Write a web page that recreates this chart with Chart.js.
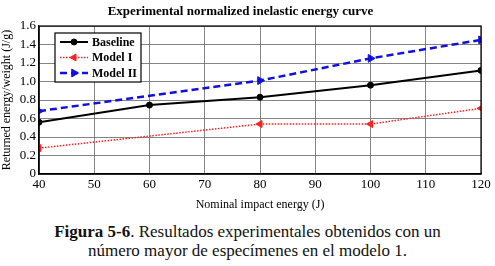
<!DOCTYPE html>
<html>
<head>
<meta charset="utf-8">
<script src="https://cdn.jsdelivr.net/npm/chart.js@4/dist/chart.umd.min.js"></script>
<style>
  html, body { margin: 0; padding: 0; background: #fff; }
  #wrap { position: relative; width: 495px; height: 212px; }
  #cap { width: 495px; text-align: center; font-family: "Liberation Serif", serif; font-size: 17px; line-height: 19px; color: #111; margin-top: 10px; }
  #warm { font-family: "Liberation Serif"; position: absolute; left: -999px; top: 0; }
</style>
</head>
<body>
<div id="warm"><b>Ab</b>Ab</div>
<div id="wrap"><canvas id="c" width="495" height="212"></canvas></div>
<div id="cap"><b>Figura 5-6</b>. Resultados experimentales obtenidos con un<br>número mayor de especímenes en el modelo 1.</div>
<script>
const titleText = "Experimental normalized inelastic energy curve";
const xTitle = "Nominal impact energy (J)";
const yTitle = "Returned energy/weight (J/g)";
const seriesNames = ["Baseline", "Model I", "Model II"];
const baselineX = [40, 60, 80, 100, 120];
const baselineY = [0.56, 0.745, 0.83, 0.96, 1.12];
const model1X = [40, 80, 100, 120];
const model1Y = [0.28, 0.54, 0.54, 0.71];
const model2X = [40, 80, 100, 120];
const model2Y = [0.68, 1.01, 1.25, 1.45];
const xTicks = [40, 50, 60, 70, 80, 90, 100, 110, 120];
const yTicks = [0, 0.2, 0.4, 0.6, 0.8, 1, 1.2, 1.4, 1.6];

const pts = (xs, ys) => xs.map((x, i) => ({ x: x, y: ys[i] }));
const serif = '"Liberation Serif"';

const styles = [
  { color: '#000000', dash: [], width: 2, pointStyle: 'circle', rot: 0, r: 3 },
  { color: '#ff2020', dash: [1.5, 1.5], width: 1.5, pointStyle: 'triangle', rot: -90, r: 4 },
  { color: '#1010e0', dash: [7, 4], width: 2.5, pointStyle: 'triangle', rot: 90, r: 4.5 }
];

const frameLegend = {
  id: 'frameLegend',
  afterDraw(chart) {
    const ctx = chart.ctx, a = chart.chartArea;
    ctx.save();
    ctx.strokeStyle = '#000'; ctx.lineWidth = 1.2; ctx.setLineDash([]);
    ctx.strokeRect(a.left, a.top, a.right - a.left, a.bottom - a.top);
    const lx = a.left + 16, ly = a.top + 7, lw = 86, lh = 49;
    ctx.fillStyle = '#fff';
    ctx.fillRect(lx, ly, lw, lh);
    ctx.strokeRect(lx, ly, lw, lh);
    ctx.font = "bold 12px " + serif;
    ctx.textBaseline = 'middle';
    chart.data.datasets.forEach((ds, i) => {
      const s = styles[i];
      const yy = ly + 9 + i * 15.5;
      ctx.strokeStyle = s.color; ctx.lineWidth = s.width; ctx.setLineDash(s.dash);
      ctx.beginPath(); ctx.moveTo(lx + 5, yy); ctx.lineTo(lx + 33, yy); ctx.stroke();
      ctx.setLineDash([]);
      ctx.fillStyle = s.color;
      ctx.strokeStyle = s.color;
      ctx.lineWidth = 1;
      Chart.helpers.drawPoint(ctx, { pointStyle: s.pointStyle, rotation: s.rot, radius: s.r, borderWidth: 1 }, lx + 19, yy);
      ctx.fillStyle = '#000';
      ctx.fillText(ds.label, lx + 37, yy + 0.5);
    });
    ctx.restore();
  }
};

function build() {
new Chart(document.getElementById('c'), {
  type: 'line',
  data: {
    datasets: [
      { label: seriesNames[0], data: pts(baselineX, baselineY) },
      { label: seriesNames[1], data: pts(model1X, model1Y) },
      { label: seriesNames[2], data: pts(model2X, model2Y) }
    ].map((d, i) => Object.assign(d, {
      borderColor: styles[i].color,
      backgroundColor: styles[i].color,
      borderDash: styles[i].dash,
      borderWidth: styles[i].width,
      pointStyle: styles[i].pointStyle,
      pointRotation: styles[i].rot,
      pointRadius: styles[i].r,
      pointBorderWidth: 1,
      fill: false,
      tension: 0
    }))
  },
  options: {
    responsive: false,
    animation: false,
    layout: { padding: { left: 0, right: 14, top: 0, bottom: 0 } },
    plugins: {
      legend: { display: false },
      tooltip: { enabled: false },
      title: {
        display: true, text: titleText, color: '#000',
        font: { family: serif, size: 13, weight: 'bold', lineHeight: 1.2 },
        padding: { top: 4, bottom: 6.4 }
      }
    },
    scales: {
      x: {
        type: 'linear', min: 40, max: 120,
        afterBuildTicks: (ax) => { ax.ticks = xTicks.map(v => ({ value: v })); },
        afterFit: (ax) => { ax.height = 38; },
        border: { color: '#000', width: 1.2 },
        grid: { color: '#666', lineWidth: 0.8, tickLength: 0, borderDash: [1, 2] },
        ticks: { color: '#000', font: { family: serif, size: 13 }, padding: 3, maxRotation: 0, autoSkip: false },
        title: { display: true, text: xTitle, color: '#000', font: { family: serif, size: 12 }, padding: { top: 0, bottom: 0 } }
      },
      y: {
        min: 0, max: 1.6,
        afterBuildTicks: (ax) => { ax.ticks = yTicks.map(v => ({ value: v })); },
        afterFit: (ax) => { ax.width = 39; },
        border: { color: '#000', width: 1.2 },
        grid: { color: '#666', lineWidth: 0.8, tickLength: 0, borderDash: [1, 2] },
        ticks: { color: '#000', font: { family: serif, size: 13 }, padding: 3, autoSkip: false },
        title: { display: true, text: yTitle, color: '#000', font: { family: serif, size: 12 }, padding: { top: 0, bottom: 0 } }
      }
    }
  },
  plugins: [frameLegend]
});
}
if (document.fonts && document.fonts.load) {
  Promise.all([
    document.fonts.load('12px "Liberation Serif"'),
    document.fonts.load('bold 12px "Liberation Serif"')
  ]).then(build, build);
} else { build(); }
</script>
</body>
</html>
